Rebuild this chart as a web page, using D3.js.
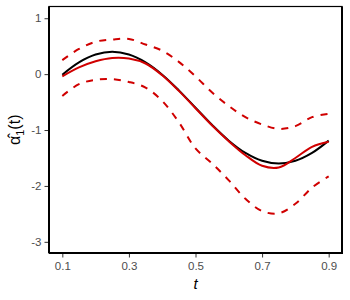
<!DOCTYPE html>
<html><head><meta charset="utf-8">
<script src="https://cdn.jsdelivr.net/npm/d3@7"></script>
<style>body{margin:0;background:#fff}svg{display:block}text{font-family:"Liberation Sans",Arial,sans-serif}</style>
</head><body>
<svg id="c" width="350" height="300"></svg>
<script>
const tGrid = [0.10,0.15,0.20,0.25,0.30,0.35,0.40,0.45,0.50,0.55,0.60,0.65,0.70,0.75,0.80,0.85,0.90];
const trueCurve = [-0.01,0.21,0.35,0.40,0.35,0.21,-0.01,-0.29,-0.60,-0.91,-1.19,-1.41,-1.55,-1.60,-1.55,-1.41,-1.19];
const estCurve  = [-0.04,0.12,0.23,0.29,0.28,0.19,-0.02,-0.30,-0.61,-0.92,-1.20,-1.45,-1.64,-1.67,-1.50,-1.30,-1.21];
const upperBand = [0.25,0.45,0.58,0.62,0.63,0.53,0.42,0.22,-0.04,-0.33,-0.57,-0.77,-0.90,-0.98,-0.93,-0.77,-0.71];
const lowerBand = [-0.39,-0.18,-0.10,-0.09,-0.14,-0.24,-0.48,-0.86,-1.33,-1.60,-1.90,-2.23,-2.45,-2.49,-2.32,-2.03,-1.83];
const xTicks = [0.1,0.3,0.5,0.7,0.9];
const yTicks = [-3,-2,-1,0,1];

const svg = d3.select("#c");
const L=49, R=342, T=6.5, B=253;
const x = d3.scaleLinear().domain([0.06,0.94]).range([L,R]);
const y = d3.scaleLinear().domain([-3.2,1.21]).range([B,T]);

const line = vals => d3.line().x((d,i)=>x(tGrid[i])).y(d=>y(d)).curve(d3.curveCatmullRom)(vals);

const red = "#D00000";
svg.append("path").attr("d",line(upperBand)).attr("fill","none").attr("stroke",red).attr("stroke-width",2).attr("stroke-dasharray","7,7");
svg.append("path").attr("d",line(lowerBand)).attr("fill","none").attr("stroke",red).attr("stroke-width",2).attr("stroke-dasharray","7,7");
svg.append("path").attr("d",line(trueCurve)).attr("fill","none").attr("stroke","#000").attr("stroke-width",2);
svg.append("path").attr("d",line(estCurve)).attr("fill","none").attr("stroke",red).attr("stroke-width",2);

// panel border
svg.append("rect").attr("x",L).attr("y",T).attr("width",R-L).attr("height",B-T).attr("fill","none").attr("stroke","#000").attr("stroke-width",1.2);
svg.append("line").attr("x1",L).attr("x2",L).attr("y1",T).attr("y2",B).attr("stroke","#000").attr("stroke-width",2);
svg.append("line").attr("x1",L).attr("x2",R+1).attr("y1",B).attr("y2",B).attr("stroke","#000").attr("stroke-width",2);
svg.append("line").attr("x1",R).attr("x2",R).attr("y1",T).attr("y2",B).attr("stroke","#000").attr("stroke-width",2);

const xa = svg.append("g").attr("transform",`translate(0,${B+1})`)
  .call(d3.axisBottom(x).tickValues(xTicks).tickFormat(d3.format(".1f")).tickSize(3.5).tickPadding(4));
const ya = svg.append("g").attr("transform",`translate(${L-1},0)`)
  .call(d3.axisLeft(y).tickValues(yTicks).tickFormat(d=>d<0?"-"+Math.abs(d):d).tickSize(3.5).tickPadding(3));
[xa,ya].forEach(a=>{
  a.select(".domain").remove();
  a.selectAll("line").attr("stroke","#333").attr("stroke-width",1);
  a.selectAll("text").attr("fill","#4d4d4d").attr("font-size",11.5).attr("font-family","Liberation Sans, Arial, sans-serif");
});

svg.append("text").attr("x",(L+R)/2).attr("y",289).attr("text-anchor","middle")
  .attr("font-size",15).attr("font-style","italic").attr("fill","#000").text("t");

const yl = svg.append("text").attr("transform",`translate(20,${(T+B)/2}) rotate(-90)`)
  .attr("text-anchor","middle").attr("font-size",16).attr("fill","#000")
  .attr("font-family","DejaVu Sans, sans-serif");
yl.append("tspan").text("α\u0302");
yl.append("tspan").attr("font-size",11).attr("dy",4).text("1");
yl.append("tspan").attr("dy",-4).text("(t)");
</script>
</body></html>
